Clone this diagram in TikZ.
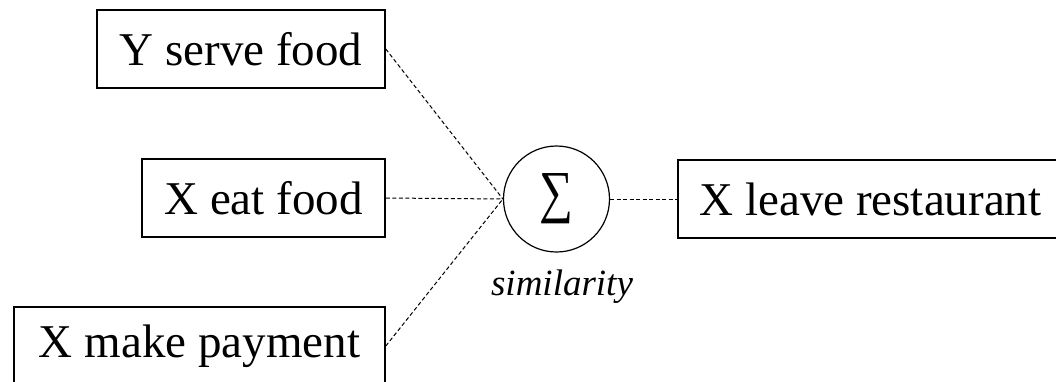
\documentclass[tikz,border=0pt]{standalone}
\usepackage{fontspec}
\setmainfont{Liberation Serif}
\begin{document}
\begin{tikzpicture}[x=1pt,y=-1pt,
  box/.style={draw,line width=1.5pt,inner sep=0pt,minimum height=78pt,font=\fontsize{47}{56}\selectfont},
  conn/.style={line width=1pt,dash pattern=on 4pt off 2.5pt}]
\useasboundingbox (0,0) rectangle (1056,381);
\node[box,minimum width=288pt] (ys) at (241,49) {Y serve food};
\node[box,minimum width=243pt] (xe) at (263.5,198) {X eat food};
\node[box,minimum width=371pt] (xm) at (199.5,346) {X make payment};
\node[box,minimum width=385pt] (xl) at (870.5,199) {X leave restaurant};
\node[draw,circle,line width=1.2pt,minimum size=106pt,inner sep=0pt,font=\fontsize{58}{64}\selectfont] (c) at (556.5,199) {\raisebox{-5pt}{\scalebox{0.82}[1]{∑}}};
\node[font=\fontsize{37}{42}\selectfont\itshape,anchor=base] (sim) at (562,295) {similarity};
\draw[conn] (ys.east) -- (c.west);
\draw[conn] (xe.east) -- (c.west);
\draw[conn] (xm.east) -- (c.west);
\draw[conn] (c.east) -- (xl.west);
\end{tikzpicture}
\end{document}
